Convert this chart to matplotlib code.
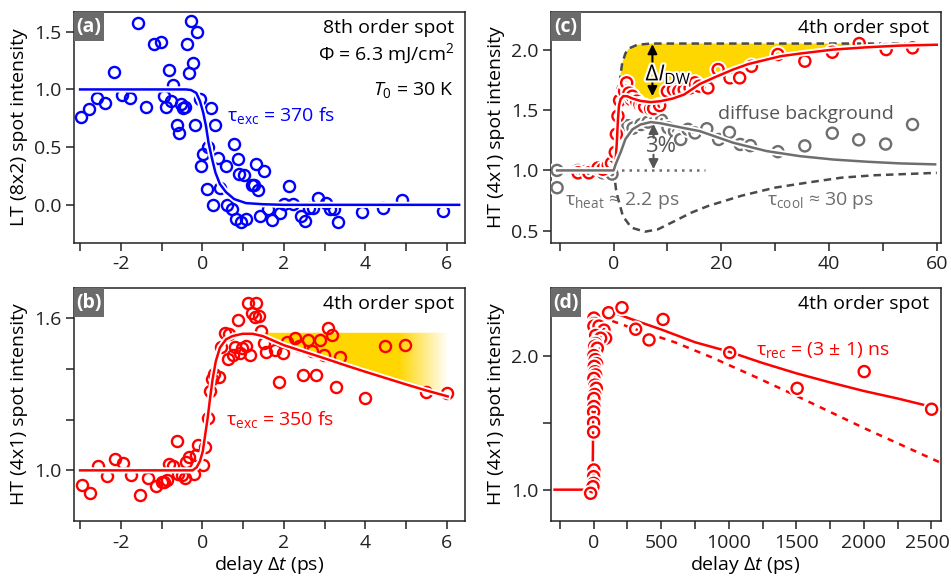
import numpy as np
import matplotlib
matplotlib.use('Agg')
import matplotlib.pyplot as plt
import matplotlib.patheffects as pe
from matplotlib.patches import Polygon, Rectangle

plt.rcParams['font.family'] = ['Open Sans', 'DejaVu Sans']
plt.rcParams['mathtext.fontset'] = 'custom'
plt.rcParams['mathtext.rm'] = 'Open Sans'
plt.rcParams['mathtext.it'] = 'Open Sans:italic'
plt.rcParams['mathtext.bf'] = 'Open Sans:bold'
plt.rcParams['axes.unicode_minus'] = False
plt.rcParams['font.size'] = 14

BLUE = '#0000ff'
RED = '#ff0000'
GREY = '#6e6e6e'
DARK = '#4a4a4a'
GOLD = '#ffd700'

# ---------------- (a) LT (8x2) spot, 8th order ----------------
a_delay = [-2.99, -2.79, -2.58, -2.38, -2.18, -1.98, -1.77, -1.58, -1.38, -1.19, -1.02, -0.94,
           -0.89, -0.83, -0.78, -0.73, -0.63, -0.58, -0.52, -0.48, -0.42, -0.38, -0.34, -0.29,
           -0.24, -0.17, -0.12, -0.07, -0.04, 0.02, 0.11, 0.13, 0.22, 0.27, 0.32, 0.38, 0.43,
           0.57, 0.61, 0.72, 0.77, 0.82, 0.87, 0.91, 0.96, 1.03, 1.06, 1.21, 1.27, 1.32, 1.36,
           1.41, 1.52, 1.62, 1.71, 1.91, 2.01, 2.12, 2.22, 2.42, 2.52, 2.62, 2.72, 2.83, 3.03,
           3.13, 3.22, 3.32, 3.91, 4.42, 4.91, 5.91]
a_int = [0.76, 0.83, 0.93, 0.88, 1.15, 0.95, 0.93, 1.58, 0.85, 1.39, 1.41, 0.94, 0.85, 1.17,
         0.90, 1.04, 0.69, 0.62, 0.87, 0.84, 0.85, 1.39, 1.14, 1.59, 1.23, 0.69, 1.50, 0.92,
         0.34, 0.44, 0.14, 0.50, 0.84, 0.00, 0.69, 0.41, 0.15, 0.34, 0.00, -0.04, 0.53, -0.12,
         0.40, 0.27, -0.15, 0.26, -0.12, 0.17, 0.17, 0.35, 0.13, -0.10, 0.29, -0.04, -0.13,
         -0.07, 0.01, 0.16, 0.01, -0.10, -0.14, -0.03, -0.03, 0.06, 0.02, -0.04, -0.04, -0.15,
         -0.06, -0.03, 0.04, -0.05]
a_fit_delay = [-3.0, -0.4, -0.28, -0.15, -0.06, 0.02, 0.09, 0.15, 0.23, 0.32, 0.43, 0.58, 0.78,
               1.07, 1.5, 2.0, 6.3]
a_fit_int = [1.0, 1.0, 0.995, 0.97, 0.90, 0.80, 0.68, 0.54, 0.41, 0.28, 0.18, 0.11, 0.05,
             0.015, 0.005, 0.0, 0.0]

# ---------------- (b) HT (4x1) spot, short delays ----------------
b_delay = [-2.96, -2.75, -2.56, -2.35, -2.15, -1.94, -1.74, -1.54, -1.34, -1.14, -1.00, -0.94,
           -0.87, -0.83, -0.73, -0.63, -0.60, -0.50, -0.43, -0.40, -0.33, -0.20, -0.15, -0.10,
           0.02, 0.07, 0.13, 0.18, 0.24, 0.29, 0.42, 0.45, 0.56, 0.62, 0.65, 0.74, 0.80, 0.87,
           0.92, 0.97, 1.07, 1.11, 1.18, 1.22, 1.28, 1.32, 1.38, 1.44, 1.50, 1.56, 1.77, 1.89,
           1.99, 2.07, 2.28, 2.38, 2.48, 2.58, 2.68, 2.79, 2.88, 2.99, 3.08, 3.18, 3.28, 3.37,
           4.00, 4.49, 4.98, 5.48, 5.99]
b_int = [0.943, 0.912, 1.016, 0.976, 1.044, 1.029, 0.983, 0.904, 0.970, 0.939, 0.956, 0.953,
         0.962, 1.026, 1.016, 1.115, 0.985, 0.983, 0.970, 1.032, 1.051, 0.987, 1.062, 1.102,
         1.020, 1.094, 1.207, 1.315, 1.359, 1.381, 1.368, 1.487, 1.541, 1.438, 1.537, 1.454,
         1.488, 1.592, 1.464, 1.484, 1.490, 1.659, 1.455, 1.622, 1.607, 1.659, 1.608, 1.550,
         1.504, 1.468, 1.475, 1.348, 1.464, 1.508, 1.523, 1.490, 1.376, 1.514, 1.471, 1.378,
         1.514, 1.454, 1.560, 1.534, 1.328, 1.447, 1.286, 1.490, 1.493, 1.310, 1.306]
b_fit_delay = [-3.0, -0.24, -0.14, -0.06, 0.01, 0.07, 0.13, 0.19, 0.25, 0.33, 0.43, 0.58, 0.74,
               0.99, 1.23, 1.48, 2.0, 2.5, 3.0, 3.5, 4.0, 4.5, 5.0, 5.5, 6.02]
b_fit_int = [1.0, 1.0, 1.012, 1.036, 1.075, 1.141, 1.207, 1.286, 1.359, 1.431, 1.484, 1.517,
             1.530, 1.539, 1.539, 1.530, 1.494, 1.468, 1.442, 1.415, 1.389, 1.364, 1.339,
             1.315, 1.292]
b_plateau = 1.543

# ---------------- (c) HT (4x1) spot vs diffuse background ----------------
c_delay = [-6.6, -4.6, -2.9, -2.0, -1.0, -0.4, 0.3, 0.5, 0.8, 1.1, 1.73, 2.04, 2.35, 2.42, 2.85,
           3.3, 3.47, 4.27, 4.89, 5.45, 5.76, 6.88, 7.43, 8.55, 9.98, 11.1, 12.1, 13.1, 14.2,
           15.1, 15.9, 17.5, 19.4, 21.6, 23.4, 25.6, 30.5, 35.5, 40.6, 45.6, 50.6, 55.5]
c_int = [0.98, 0.98, 1.02, 1.01, 1.04, 1.06, 1.15, 1.30, 1.45, 1.58, 1.67, 1.655, 1.72, 1.725,
         1.64, 1.587, 1.614, 1.573, 1.545, 1.537, 1.526, 1.51, 1.512, 1.537, 1.655, 1.669,
         1.655, 1.669, 1.683, 1.725, 1.697, 1.683, 1.835, 1.766, 1.766, 1.862, 1.959, 1.904,
         1.978, 2.05, 2.0, 2.014]
c_bg_delay = [-10.5, -10.5, -6.6, -5.3, -4.0, -3.0, -2.0, -1.0, -0.3, 1.4, 2.66, 3.6, 5.1, 6.4,
              7.9, 8.9, 10.1, 11.3, 12.45, 13.8, 15.1, 17.3, 19.5, 21.5, 23.5, 25.4, 30.5, 35.5,
              40.6, 45.5, 50.5, 55.5]
c_bg_int = [1.0, 0.857, 1.0, 0.99, 1.0, 0.99, 0.98, 0.99, 0.97, 1.35, 1.37, 1.35, 1.38, 1.40,
            1.435, 1.416, 1.353, 1.325, 1.256, 1.34, 1.31, 1.345, 1.256, 1.315, 1.215, 1.205,
            1.155, 1.203, 1.308, 1.253, 1.218, 1.38]
c_fit_delay = [-10.5, 0.0, 0.3, 0.55, 0.8, 1.0, 1.3, 1.8, 2.5, 3.5, 5.0, 6.9, 8.7, 11.0, 13.1,
               16.0, 19.0, 22.2, 25.0, 28.4, 31.0, 34.6, 40.8, 47.0, 53.2, 60.0]
c_fit_int = [1.0, 1.0, 1.05, 1.2, 1.42, 1.54, 1.59, 1.615, 1.614, 1.595, 1.575, 1.565, 1.573,
             1.595, 1.628, 1.715, 1.775, 1.835, 1.88, 1.917, 1.945, 1.967, 2.0, 2.019, 2.033,
             2.04]
c_bgfit_delay = [-10.5, 0.0, 0.37, 1.3, 2.2, 3.5, 5.0, 6.9, 8.7, 13.1, 16.0, 22.2, 28.4, 34.6,
                 40.8, 47.0, 53.2, 59.7]
c_bgfit_int = [1.0, 1.0, 1.05, 1.15, 1.26, 1.34, 1.38, 1.40, 1.39, 1.35, 1.325, 1.229, 1.16,
               1.118, 1.09, 1.072, 1.058, 1.05]
c_dw_delay = [0.0, 0.25, 0.4, 0.7, 1.0, 1.3, 1.6, 2.2, 2.85, 4.4, 7.0, 60.0]
c_dw_int = [1.0, 1.2, 1.34, 1.55, 1.67, 1.8, 1.89, 1.97, 2.01, 2.04, 2.05, 2.05]
c_heat_delay = [0.0, 0.2, 0.45, 0.8, 1.73, 3.3, 5.8, 8.2, 11.3, 14.4, 17.5, 23.7, 29.9, 36.1,
                42.3, 48.5, 60.0]
c_heat_int = [1.0, 0.93, 0.84, 0.77, 0.62, 0.526, 0.493, 0.512, 0.58, 0.65, 0.705, 0.79,
              0.857, 0.90, 0.94, 0.96, 0.98]

# ---------------- (d) HT (4x1) spot, long delays ----------------
d_delay = [2, 5, 2, 40, 77, 15, 89, 52, 15, 8, 27, 2, 12, 22, 5, 10, 15, 2, 10, 20, 8, 2, 2,
           0, 0, 0, 2, 0, 0, -5, -22, 111, 210, 311, 410, 514, 1007, 1506, 2002, 2501]
d_int = [2.28, 2.24, 2.22, 2.22, 2.19, 2.15, 2.13, 2.13, 2.09, 2.07, 2.055, 2.0, 1.97, 1.94,
         1.92, 1.88, 1.856, 1.83, 1.78, 1.756, 1.71, 1.68, 1.62, 1.58, 1.50, 1.43, 1.147, 1.097,
         1.047, 1.022, 0.973, 2.32, 2.358, 2.197, 2.117, 2.27, 2.022, 1.756, 1.881, 1.60]
d_rise_delay = [-289, -40, -8, -5, -3, 0, 5, 15]
d_rise_int = [1.0, 1.0, 1.02, 1.3, 1.6, 1.9, 2.15, 2.25]
d_fit_delay = [160, 300, 500, 750, 1000, 1250, 1500, 1750, 2000, 2250, 2465]
d_fit_int = [2.316, 2.265, 2.195, 2.10, 2.03, 1.945, 1.868, 1.80, 1.736, 1.68, 1.627]
d_lin_delay = [50, 300, 600, 867, 1200, 1500, 2000, 2570]
d_lin_int = [2.29, 2.20, 2.10, 1.99, 1.84, 1.70, 1.46, 1.20]
d_xticks = [0, 500, 1000, 1500, 2000, 2500]

halo = [pe.withStroke(linewidth=4.5, foreground='white')]
mk = dict(ls='none', marker='o', ms=8, mfc='none', mew=1.7)

fig = plt.figure(figsize=(9.51, 5.77), dpi=100)
ax_a = fig.add_axes([0.0778, 0.579, 0.411, 0.400])
ax_b = fig.add_axes([0.0778, 0.097, 0.411, 0.404])
ax_c = fig.add_axes([0.579, 0.579, 0.410, 0.400])
ax_d = fig.add_axes([0.579, 0.097, 0.410, 0.404])


def style(ax, label, ylabel):
    for s in ax.spines.values():
        s.set_linewidth(1.1)
        s.set_color('#222222')
    ax.tick_params(which='both', direction='out', length=6, width=1.1, pad=3,
                   labelsize=14, colors='#222222', top=False, right=False)
    ax.add_patch(Rectangle((0, 1 - 29 / 231), 30 / 391, 29 / 231, transform=ax.transAxes,
                           fc='#6b6b6b', ec='none', zorder=10))
    ax.text(15 / 391, 1 - 14.5 / 231, label, transform=ax.transAxes, ha='center',
            va='center', color='white', fontweight='bold', fontsize=14, zorder=11)
    ax.set_ylabel(ylabel, fontsize=14)
    ax.yaxis.set_label_coords(-0.118, 0.5)


# (a)
ax_a.plot(a_delay, a_int, color=BLUE, zorder=3, **mk)
ax_a.plot(a_fit_delay, a_fit_int, color=BLUE, lw=1.8, zorder=4, path_effects=halo)
ax_a.set_xlim(-3.15, 6.44)
ax_a.set_ylim(-0.33, 1.67)
ax_a.set_xticks([-2, 0, 2, 4, 6])
ax_a.set_xticks([-3, -1, 1, 3, 5], minor=True)
ax_a.set_yticks([0.0, 0.5, 1.0, 1.5])
ax_a.set_yticklabels(['0.0', '0.5', '1.0', '1.5'])
ax_a.text(0.972, 0.93, '8th order spot', transform=ax_a.transAxes, ha='right', va='center')
ax_a.text(0.972, 0.818, 'Φ = 6.3 mJ/cm$^{2}$', transform=ax_a.transAxes, ha='right', va='center')
ax_a.text(0.972, 0.662, r'$T_{\mathrm{0}}$ = 30 K', transform=ax_a.transAxes, ha='right', va='center')
ax_a.text(0.6, 0.77, r'$\mathrm{\tau}_{\mathrm{exc}}$ = 370 fs', color=BLUE, ha='left', va='center')
style(ax_a, '(a)', 'LT (8x2) spot intensity')

# (b)
poly_x = [b_fit_delay[i] for i in range(len(b_fit_delay)) if b_fit_delay[i] >= 1.48]
poly_y = [b_fit_int[i] for i in range(len(b_fit_delay)) if b_fit_delay[i] >= 1.48]
verts = [(1.48, b_plateau), (6.02, b_plateau)] + list(zip(poly_x[::-1], poly_y[::-1]))
clip = Polygon(verts, closed=True, fc='none', ec='none', transform=ax_b.transData)
ax_b.add_patch(clip)
grad = np.zeros((2, 256, 4))
gx = np.linspace(1.48, 6.02, 256)
grad[..., 0] = 1.0
grad[..., 1] = 0.843
grad[..., 2] = 0.0
grad[..., 3] = np.clip((6.02 - gx) / (6.02 - 4.8), 0, 1)
im = ax_b.imshow(grad, extent=[1.48, 6.02, 1.25, 1.56], aspect='auto', origin='lower',
                 zorder=1, interpolation='bilinear')
im.set_clip_path(clip)
ax_b.plot(b_delay, b_int, color=RED, zorder=3, **mk)
ax_b.plot(b_fit_delay, b_fit_int, color=RED, lw=1.8, zorder=4, path_effects=halo)
ax_b.set_xlim(-3.15, 6.44)
ax_b.set_ylim(0.80, 1.72)
ax_b.set_xticks([-2, 0, 2, 4, 6])
ax_b.set_xticks([-3, -1, 1, 3, 5], minor=True)
ax_b.set_yticks([1.0, 1.6])
ax_b.set_yticklabels(['1.0', '1.6'])
ax_b.set_yticks([1.2, 1.4], minor=True)
ax_b.text(0.972, 0.93, '4th order spot', transform=ax_b.transAxes, ha='right', va='center')
ax_b.text(0.58, 1.2, r'$\mathrm{\tau}_{\mathrm{exc}}$ = 350 fs', color=RED, ha='left', va='center')
ax_b.set_xlabel(r'delay $\mathrm{\Delta}t$ (ps)', fontsize=14)
ax_b.xaxis.set_label_coords(0.5, -0.142)
style(ax_b, '(b)', 'HT (4x1) spot intensity')

# (c)
fill_up = list(zip(c_dw_delay[2:], c_dw_int[2:]))
fill_lo = [(x, y) for x, y in zip(c_fit_delay, c_fit_int) if x >= 0.3][::-1]
ax_c.add_patch(Polygon(fill_up + fill_lo, closed=True, fc=GOLD, ec='none', zorder=1))
ax_c.plot(c_dw_delay, c_dw_int, color=DARK, lw=1.8, ls=(0, (3, 2)), zorder=2)
ax_c.plot(c_heat_delay, c_heat_int, color=DARK, lw=1.8, ls=(0, (3, 2)), zorder=2)
ax_c.plot([0, 17], [1.0, 1.0], color=GREY, lw=1.8, ls=(0, (1, 2)), zorder=2)
ax_c.plot(c_bg_delay, c_bg_int, color=GREY, zorder=3, path_effects=halo, **mk)
ax_c.plot(c_delay, c_int, color=RED, zorder=4, path_effects=halo, **mk)
ax_c.plot(c_fit_delay, c_fit_int, color=RED, lw=1.8, zorder=5, path_effects=halo)
ax_c.plot(c_bgfit_delay, c_bgfit_int, color=GREY, lw=1.8, zorder=5, path_effects=halo)
arr = dict(arrowstyle='-|>', lw=1.5, mutation_scale=14, shrinkA=0, shrinkB=0)
ax_c.annotate('', xy=(7.2, 2.045), xytext=(7.2, 1.86), arrowprops=dict(color='black', **arr), zorder=6)
ax_c.annotate('', xy=(7.2, 1.615), xytext=(7.2, 1.725), arrowprops=dict(color='black', **arr), zorder=6)
ax_c.text(5.9, 1.795, r'$\mathrm{\Delta}I_{\mathrm{DW}}$', fontsize=16, ha='left', va='center',
          zorder=7, path_effects=[pe.withStroke(linewidth=3, foreground='white')])
ax_c.annotate('', xy=(7.4, 1.385), xytext=(7.4, 1.27), arrowprops=dict(color='#555555', **arr), zorder=6)
ax_c.annotate('', xy=(7.4, 1.01), xytext=(7.4, 1.13), arrowprops=dict(color='#555555', **arr), zorder=6)
ax_c.text(8.7, 1.2, '3%', color='#555555', fontsize=16, ha='center', va='center', zorder=7)
ax_c.text(19.3, 1.47, 'diffuse background', color='#555555', ha='left', va='center')
ax_c.text(-9.1, 0.75, r'$\mathrm{\tau}_{\mathrm{heat}}$ ≈ 2.2 ps', color=GREY, ha='left', va='center')
ax_c.text(28.4, 0.75, r'$\mathrm{\tau}_{\mathrm{cool}}$ ≈ 30 ps', color=GREY, ha='left', va='center')
ax_c.text(0.972, 0.93, '4th order spot', transform=ax_c.transAxes, ha='right', va='center')
ax_c.set_xlim(-11.7, 60.7)
ax_c.set_ylim(0.40, 2.31)
ax_c.set_xticks([0, 20, 40, 60])
ax_c.set_xticks([-10, 10, 30, 50], minor=True)
ax_c.set_yticks([0.5, 1.0, 1.5, 2.0])
ax_c.set_yticklabels(['0.5', '1.0', '1.5', '2.0'])
style(ax_c, '(c)', 'HT (4x1) spot intensity')

# (d)
ax_d.plot(d_lin_delay, d_lin_int, color=RED, lw=1.8, ls=(0, (2.5, 2.5)), zorder=2)
ax_d.plot(d_rise_delay, d_rise_int, color=RED, lw=1.8, zorder=2)
ax_d.plot(d_fit_delay, d_fit_int, color=RED, lw=1.8, zorder=2, path_effects=halo)
ax_d.plot(d_delay, d_int, color=RED, zorder=3, path_effects=halo, **mk)
ax_d.text(1205, 2.04, r'$\mathrm{\tau}_{\mathrm{rec}}$ = (3 ± 1) ns', color=RED, ha='left', va='center')
ax_d.text(0.972, 0.93, '4th order spot', transform=ax_d.transAxes, ha='right', va='center')
ax_d.set_xlim(-318, 2567)
ax_d.set_ylim(0.766, 2.505)
ax_d.set_xticks(d_xticks)
# last label sits on the figure edge: draw it right-aligned so it stays inside
ax_d.set_xticklabels([str(t) for t in d_xticks[:-1]] + [''])
ax_d.annotate(str(d_xticks[-1]), xy=(1, 0), xycoords=('figure fraction', 'axes fraction'),
              xytext=(-1, -9), textcoords='offset points', ha='right', va='top',
              fontsize=14, color='#222222')
ax_d.set_xticks([-250, 250, 750, 1250, 1750, 2250], minor=True)
ax_d.set_yticks([1.0, 2.0])
ax_d.set_yticklabels(['1.0', '2.0'])
ax_d.set_yticks([1.5], minor=True)
ax_d.set_xlabel(r'delay $\mathrm{\Delta}t$ (ps)', fontsize=14)
ax_d.xaxis.set_label_coords(0.5, -0.142)
style(ax_d, '(d)', 'HT (4x1) spot intensity')

fig.savefig('out.png', dpi=100)
